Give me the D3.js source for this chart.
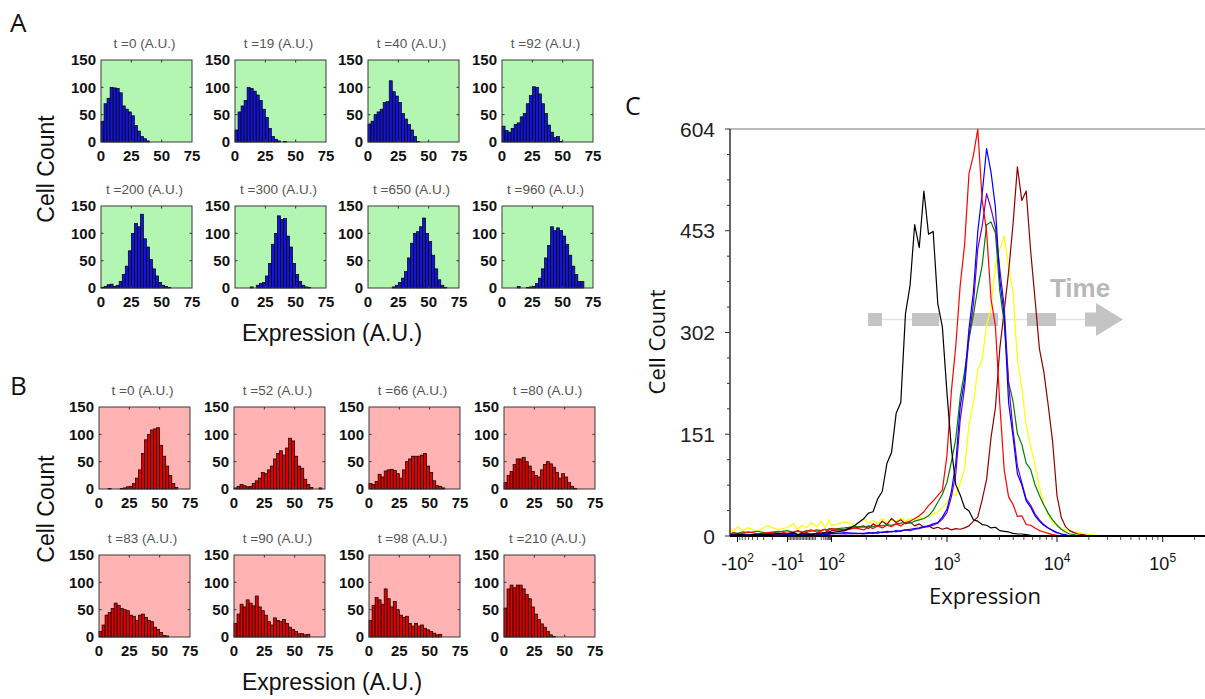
<!DOCTYPE html>
<html>
<head>
<meta charset="utf-8">
<script src="https://cdn.jsdelivr.net/npm/d3@7"></script>
<style>
  body { margin: 0; background: #fff; }
  svg { display: block; }
</style>
</head>
<body>
<svg id="fig" width="1205" height="699"></svg>
<script>
// ---------- Panels A / B: simulated expression histograms ----------
const binWidth = 2.5;                 // expression units per histogram bin
const smallXTicks = [0, 25, 50, 75];
const smallYTicks = [0, 50, 100, 150];

const onTimes = [0, 19, 40, 92, 200, 300, 650, 960];
const onCounts = [
  [38, 70, 80, 100, 99, 98, 90, 66, 60, 55, 48, 30, 20, 10, 6, 2],
  [22, 55, 66, 76, 100, 98, 93, 86, 76, 60, 45, 25, 10, 5, 2, 0, 1],
  [33, 38, 50, 55, 60, 72, 74, 112, 92, 84, 72, 52, 42, 32, 22, 10, 1],
  [29, 21, 18, 25, 32, 35, 46, 52, 70, 85, 101, 100, 88, 70, 52, 31, 18, 8, 10, 1],
  [1, 3, 6, 7, 3, 5, 12, 25, 40, 68, 100, 118, 112, 135, 90, 75, 52, 35, 22, 10, 5, 3, 1],
  [0, 0, 0, 0, 0, 2, 0, 5, 8, 10, 22, 45, 80, 100, 132, 125, 127, 95, 75, 45, 25, 12, 5, 2, 1],
  [0, 0, 0, 0, 0, 0, 0, 0, 2, 5, 10, 18, 30, 55, 82, 100, 103, 112, 128, 100, 85, 60, 35, 15, 5, 1],
  [0, 0, 0, 0, 0, 3, 0, 0, 1, 2, 3, 8, 18, 35, 55, 78, 112, 105, 110, 105, 95, 80, 60, 40, 25, 12, 12]
];

const offTimes = [0, 52, 66, 80, 83, 90, 98, 210];
const offCounts = [
  [0, 0, 0, 1, 0, 0, 0, 1, 2, 4, 5, 10, 20, 35, 65, 90, 100, 108, 110, 112, 80, 60, 42, 25, 10, 3],
  [2, 5, 8, 6, 4, 5, 10, 15, 20, 30, 28, 35, 42, 55, 65, 70, 62, 75, 93, 88, 60, 42, 38, 18, 8, 3, 0, 0, 2],
  [10, 8, 14, 27, 22, 33, 35, 36, 34, 28, 20, 35, 50, 55, 60, 60, 60, 62, 65, 42, 30, 15, 6, 5, 2],
  [12, 25, 32, 45, 55, 55, 58, 50, 42, 32, 25, 22, 35, 45, 50, 46, 40, 30, 20, 28, 22, 12, 5, 1],
  [10, 22, 40, 45, 52, 62, 58, 52, 50, 48, 40, 38, 30, 40, 42, 36, 30, 28, 18, 14, 8, 3, 2],
  [25, 42, 60, 55, 68, 62, 57, 75, 55, 48, 40, 28, 22, 35, 30, 28, 32, 25, 18, 14, 10, 6, 6, 4, 5],
  [30, 58, 72, 68, 60, 88, 70, 55, 65, 50, 40, 36, 38, 25, 20, 25, 20, 22, 16, 13, 10, 7, 4, 5],
  [53, 88, 95, 90, 95, 95, 88, 78, 70, 55, 42, 32, 24, 18, 10, 4, 1]
];

// ---------- Panel C: flow cytometry histograms ----------
const channels = [
  -140, -120, -100, -80, -60, -40, -25, -15, -10, -6, -3, 0, 3, 6, 10, 20, 35, 50, 70, 100, 130, 160,
  191, 209, 229, 251, 275, 302, 331, 363, 398, 437, 479, 525, 575, 631, 692, 759, 832, 912,
  1000, 1096, 1202, 1318, 1445, 1585, 1738, 1905, 2089, 2291, 2512, 2754, 3020, 3311, 3631, 3981, 4365, 4786, 5248, 5754,
  6310, 6918, 7586, 8318, 9120, 10000, 10965, 12023, 13183, 14454, 15849, 17378, 19055, 20893, 22909, 25119
];
const countBlack = [
  2, 1, 3, 2, 1, 3, 2, 4, 3, 5, 2, 4, 3, 2, 4, 3, 5, 4, 6, 5, 8, 16,
  26, 34, 36, 55, 66, 108, 124, 182, 198, 330, 372, 462, 428, 512, 448, 452, 345, 310,
  212, 130, 76, 61, 42, 37, 24, 22, 17, 16, 12, 13, 8, 7, 6, 4, 3, 3, 2, 1,
  0, 0, 0, 0, 0, 0, 0, 0, 0, 0, 0, 0, 0, 0, 0, 0
];
const countRed = [
  3, 5, 2, 4, 6, 3, 5, 7, 4, 6, 8, 5, 7, 9, 6, 8, 10, 7, 9, 11, 8, 12,
  9, 14, 11, 15, 12, 16, 14, 18, 15, 20, 22, 26, 30, 36, 45, 52, 60, 68,
  120, 215, 282, 372, 432, 538, 565, 604, 498, 452, 352, 312, 196, 98, 58, 47, 29, 30, 17, 16,
  12, 8, 6, 4, 2, 1, 0, 0, 0, 0, 0, 0, 0, 0, 0, 0
];
const countBlue = [
  2, 1, 3, 2, 1, 2, 3, 1, 2, 3, 2, 1, 3, 2, 4, 2, 3, 2, 4, 3, 5, 4,
  4, 5, 4, 6, 5, 7, 6, 8, 7, 9, 10, 11, 12, 14, 15, 18, 20, 28,
  40, 66, 108, 192, 232, 308, 362, 452, 508, 575, 540, 488, 380, 328, 198, 148, 92, 76, 52, 43,
  30, 22, 16, 12, 8, 5, 3, 2, 0, 0, 0, 0, 0, 0, 0, 0
];
const countPurple = [
  1, 2, 1, 3, 2, 1, 2, 1, 3, 2, 1, 2, 3, 1, 2, 3, 2, 3, 2, 4, 3, 4,
  3, 4, 5, 4, 6, 5, 7, 6, 8, 9, 8, 10, 11, 13, 14, 16, 19, 25,
  35, 58, 92, 172, 220, 296, 344, 426, 460, 508, 486, 458, 396, 340, 226, 158, 104, 79, 55, 46,
  33, 24, 17, 12, 8, 5, 3, 1, 0, 0, 0, 0, 0, 0, 0, 0
];
const countGreen = [
  3, 5, 4, 6, 5, 7, 4, 6, 8, 5, 7, 6, 8, 7, 9, 8, 10, 9, 11, 10, 12, 14,
  13, 15, 14, 16, 15, 17, 16, 18, 19, 20, 19, 22, 24, 26, 30, 38, 50, 62,
  80, 110, 144, 206, 244, 292, 328, 368, 402, 462, 466, 450, 364, 316, 228, 200, 152, 136, 108, 99,
  76, 60, 46, 34, 24, 16, 10, 6, 3, 2, 0, 0, 0, 0, 0, 0
];
const countYellow = [
  10, 6, 14, 8, 12, 7, 15, 9, 13, 18, 10, 16, 12, 20, 14, 22, 13, 18, 24, 15, 21, 17,
  25, 19, 23, 18, 26, 20, 24, 21, 27, 22, 26, 24, 28, 25, 30, 33, 36, 42,
  50, 62, 60, 78, 100, 166, 198, 246, 262, 312, 338, 402, 426, 445, 398, 362, 262, 220, 164, 134,
  105, 72, 48, 32, 20, 15, 11, 9, 7, 6, 5, 4, 3, 2, 1, 0
];
const countDarkRed = [
  1, 2, 1, 0, 2, 1, 3, 2, 1, 4, 2, 3, 5, 3, 4, 6, 4, 7, 5, 8, 10, 12,
  15, 11, 18, 14, 22, 17, 26, 20, 24, 18, 21, 15, 18, 13, 15, 11, 13, 10,
  12, 9, 11, 10, 12, 15, 22, 28, 54, 84, 146, 190, 278, 334, 392, 462, 548, 498, 512, 424,
  352, 278, 244, 194, 140, 60, 28, 14, 8, 5, 3, 2, 1, 0, 0, 0
];
const cytoYTicks = [0, 151, 302, 453, 604];
const cytoXTicks = [-100, -10, 100, 1000, 10000, 100000];

// ---------- drawing ----------
const svg = d3.select("#fig");
const ARIAL = "'Liberation Sans', Arial, Helvetica, sans-serif";
const SANS = "'Open Sans', 'Noto Sans', sans-serif";

function panelLetter(txt, x, y, size) {
  svg.append("text").attr("x", x).attr("y", y).text(txt)
    .attr("font-family", SANS).attr("font-size", size).attr("fill", "#111");
}
panelLetter("A", 10, 32, 26);
panelLetter("B", 10, 395, 26);
panelLetter("C", 625, 115, 25);

function smallHist(left, top, counts, t, bg, fill) {
  const w = 91, h = 82;
  const x = d3.scaleLinear().domain([0, 75]).range([left, left + w]);
  const y = d3.scaleLinear().domain([0, 150]).range([top + h, top]);
  const g = svg.append("g");
  g.append("rect").attr("x", left).attr("y", top).attr("width", w).attr("height", h).attr("fill", bg);

  const bins = counts.map((c, i) => ({ x0: i * binWidth, x1: (i + 1) * binWidth, c })).filter(d => d.c > 0);
  g.selectAll("rect.bar").data(bins).join("rect").attr("class", "bar")
    .attr("x", d => x(d.x0)).attr("width", d => x(d.x1) - x(d.x0))
    .attr("y", d => y(d.c)).attr("height", d => y(0) - y(d.c))
    .attr("fill", fill).attr("stroke", "#000").attr("stroke-width", 0.7);

  // inward tick marks on all four sides
  const tk = 2.5;
  smallYTicks.slice(1, -1).forEach(v => {
    g.append("line").attr("x1", left).attr("x2", left + tk).attr("y1", y(v)).attr("y2", y(v)).attr("stroke", "#333");
    g.append("line").attr("x1", left + w).attr("x2", left + w - tk).attr("y1", y(v)).attr("y2", y(v)).attr("stroke", "#333");
  });
  smallXTicks.slice(1, -1).forEach(v => {
    g.append("line").attr("x1", x(v)).attr("x2", x(v)).attr("y1", top + h).attr("y2", top + h - tk).attr("stroke", "#333");
    g.append("line").attr("x1", x(v)).attr("x2", x(v)).attr("y1", top).attr("y2", top + tk).attr("stroke", "#333");
  });

  g.append("rect").attr("x", left).attr("y", top).attr("width", w).attr("height", h)
    .attr("fill", "none").attr("stroke", "#3a3a3a").attr("stroke-width", 1);

  g.selectAll("text.yt").data(smallYTicks).join("text").attr("class", "yt")
    .attr("x", left - 5).attr("y", d => y(d)).attr("dy", "0.36em").attr("text-anchor", "end")
    .attr("font-family", ARIAL).attr("font-weight", "bold").attr("font-size", 15).attr("fill", "#111")
    .text(d => d);
  g.selectAll("text.xt").data(smallXTicks).join("text").attr("class", "xt")
    .attr("x", d => x(d)).attr("y", top + h + 14).attr("dy", "0.36em").attr("text-anchor", "middle")
    .attr("font-family", ARIAL).attr("font-weight", "bold").attr("font-size", 15).attr("fill", "#111")
    .text(d => d);

  g.append("text").attr("x", left + w / 2 - 2).attr("y", top - 12).attr("text-anchor", "middle")
    .attr("font-family", ARIAL).attr("font-size", 13.5).attr("fill", "#555")
    .text("t =" + t + " (A.U.)");
}

const aLefts = [101, 235, 368, 502], aTops = [60, 206];
const bLefts = [99, 234, 369, 504], bTops = [407, 555];
onTimes.forEach((t, i) => smallHist(aLefts[i % 4], aTops[Math.floor(i / 4)], onCounts[i], t, "#b3f6b1", "#1414d8"));
offTimes.forEach((t, i) => smallHist(bLefts[i % 4], bTops[Math.floor(i / 4)], offCounts[i], t, "#ffb3b3", "#e00000"));

function axisTitle(txt, x, y, size, family, rotate) {
  const t = svg.append("text").attr("text-anchor", "middle")
    .attr("font-family", family).attr("font-size", size).attr("fill", "#111").text(txt);
  if (rotate) t.attr("transform", `translate(${x},${y}) rotate(-90)`);
  else t.attr("x", x).attr("y", y);
}
axisTitle("Cell Count", 54, 169, 23, ARIAL, true);
axisTitle("Expression (A.U.)", 332, 341, 23, ARIAL, false);
axisTitle("Cell Count", 54, 509, 23, ARIAL, true);
axisTitle("Expression (A.U.)", 332, 690, 23, ARIAL, false);

// ---------- Panel C ----------
const plotL = 730, plotR = 1205, plotT = 129, plotB = 536;
// biexponential-style display: linear near zero, logarithmic beyond |10|
const display = v => Math.abs(v) < 10 ? v / 10 : Math.sign(v) * Math.log10(Math.abs(v));
const xC = d3.scaleLinear()
  .domain([-2.15, -2, -1, 2, 3, 4, 5.4])
  .range([0, 7.5, 57.5, 101.5, 217, 327, 475].map(o => plotL + o));
const yC = d3.scaleLinear().domain([0, 604]).range([plotB, plotT]);

svg.append("clipPath").attr("id", "plotClip").append("rect")
  .attr("x", plotL).attr("y", plotT - 2).attr("width", plotR - plotL).attr("height", plotB - plotT + 2);

// time arrow (behind the curves)
const ag = svg.append("g");
const arrowY = 319.5;
ag.append("line").attr("x1", 868).attr("x2", 1086).attr("y1", arrowY).attr("y2", arrowY)
  .attr("stroke", "#e2e2e2").attr("stroke-width", 1.5);
[[868, 882], [912, 939], [970, 998], [1027, 1056]].forEach(([a, b]) => {
  ag.append("rect").attr("x", a).attr("y", arrowY - 6.5).attr("width", b - a).attr("height", 13).attr("fill", "#c4c4c4");
});
ag.append("polygon")
  .attr("points", `1085,${arrowY - 7} 1096,${arrowY - 7} 1096,${arrowY - 16.5} 1123,${arrowY} 1096,${arrowY + 16.5} 1096,${arrowY + 7} 1085,${arrowY + 7}`)
  .attr("fill", "#c4c4c4");
ag.append("text").attr("x", 1080).attr("y", 297).attr("text-anchor", "middle")
  .attr("font-family", ARIAL).attr("font-weight", "bold").attr("font-size", 26).attr("fill", "#b8b8b8").text("Time");

const series = [
  { counts: countYellow, color: "#ffff00" },
  { counts: countDarkRed, color: "#8b0000" },
  { counts: countGreen, color: "#008000" },
  { counts: countPurple, color: "#7a00b4" },
  { counts: countBlue, color: "#0000ff" },
  { counts: countRed, color: "#ff0000" },
  { counts: countBlack, color: "#000000" }
];
const line = d3.line().x((c, i) => xC(display(channels[i]))).y(c => yC(c));
const cg = svg.append("g").attr("clip-path", "url(#plotClip)");
series.forEach(s => {
  cg.append("path").attr("d", line(s.counts)).attr("fill", "none")
    .attr("stroke", s.color).attr("stroke-width", 1.2).attr("stroke-linejoin", "round");
});

// frame
svg.append("line").attr("x1", plotL).attr("x2", plotR).attr("y1", plotT).attr("y2", plotT).attr("stroke", "#777").attr("stroke-width", 1.2);
svg.append("line").attr("x1", plotL).attr("x2", plotL).attr("y1", plotT).attr("y2", plotB).attr("stroke", "#333").attr("stroke-width", 1.5);
svg.append("line").attr("x1", plotL).attr("x2", plotR).attr("y1", plotB).attr("y2", plotB).attr("stroke", "#000").attr("stroke-width", 2);

// y ticks
d3.range(0, 604.01, 151 / 4).forEach(v => {
  const major = cytoYTicks.some(t => Math.abs(t - v) < 0.5);
  svg.append("line").attr("x1", plotL).attr("x2", plotL - (major ? 5 : 3))
    .attr("y1", yC(v)).attr("y2", yC(v)).attr("stroke", "#333");
});
svg.selectAll("text.cyt").data(cytoYTicks).join("text").attr("class", "cyt")
  .attr("x", 715).attr("y", d => yC(d)).attr("dy", "0.36em").attr("text-anchor", "end")
  .attr("font-family", ARIAL).attr("font-size", 21).attr("fill", "#222").text(d => d);

// x ticks
const minorX = [];
for (let m = 1; m <= 9; m++) { minorX.push(-m, m); }
for (let m = 2; m <= 9; m++) { minorX.push(-10 * m, 10 * m, 100 * m, 1000 * m, 10000 * m, 100000 * m); }
minorX.push(0);
minorX.filter(v => display(v) <= 5.4).forEach(v => {
  svg.append("line").attr("x1", xC(display(v))).attr("x2", xC(display(v)))
    .attr("y1", plotB).attr("y2", plotB + 4).attr("stroke", "#222").attr("stroke-width", 0.8);
});
cytoXTicks.forEach(v => {
  const px = xC(display(v));
  svg.append("line").attr("x1", px).attr("x2", px).attr("y1", plotB).attr("y2", plotB + 6).attr("stroke", "#111").attr("stroke-width", 1);
  const t = svg.append("text").attr("x", px).attr("y", 570).attr("text-anchor", "middle")
    .attr("font-family", ARIAL).attr("font-size", 18).attr("fill", "#111");
  t.append("tspan").text((v < 0 ? "-" : "") + "10");
  t.append("tspan").attr("dy", -8).attr("font-size", 12).text(Math.round(Math.log10(Math.abs(v))));
});

axisTitle("Cell Count", 665, 342, 22, SANS, true);
axisTitle("Expression", 985, 604, 22, SANS, false);
</script>
</body>
</html>
